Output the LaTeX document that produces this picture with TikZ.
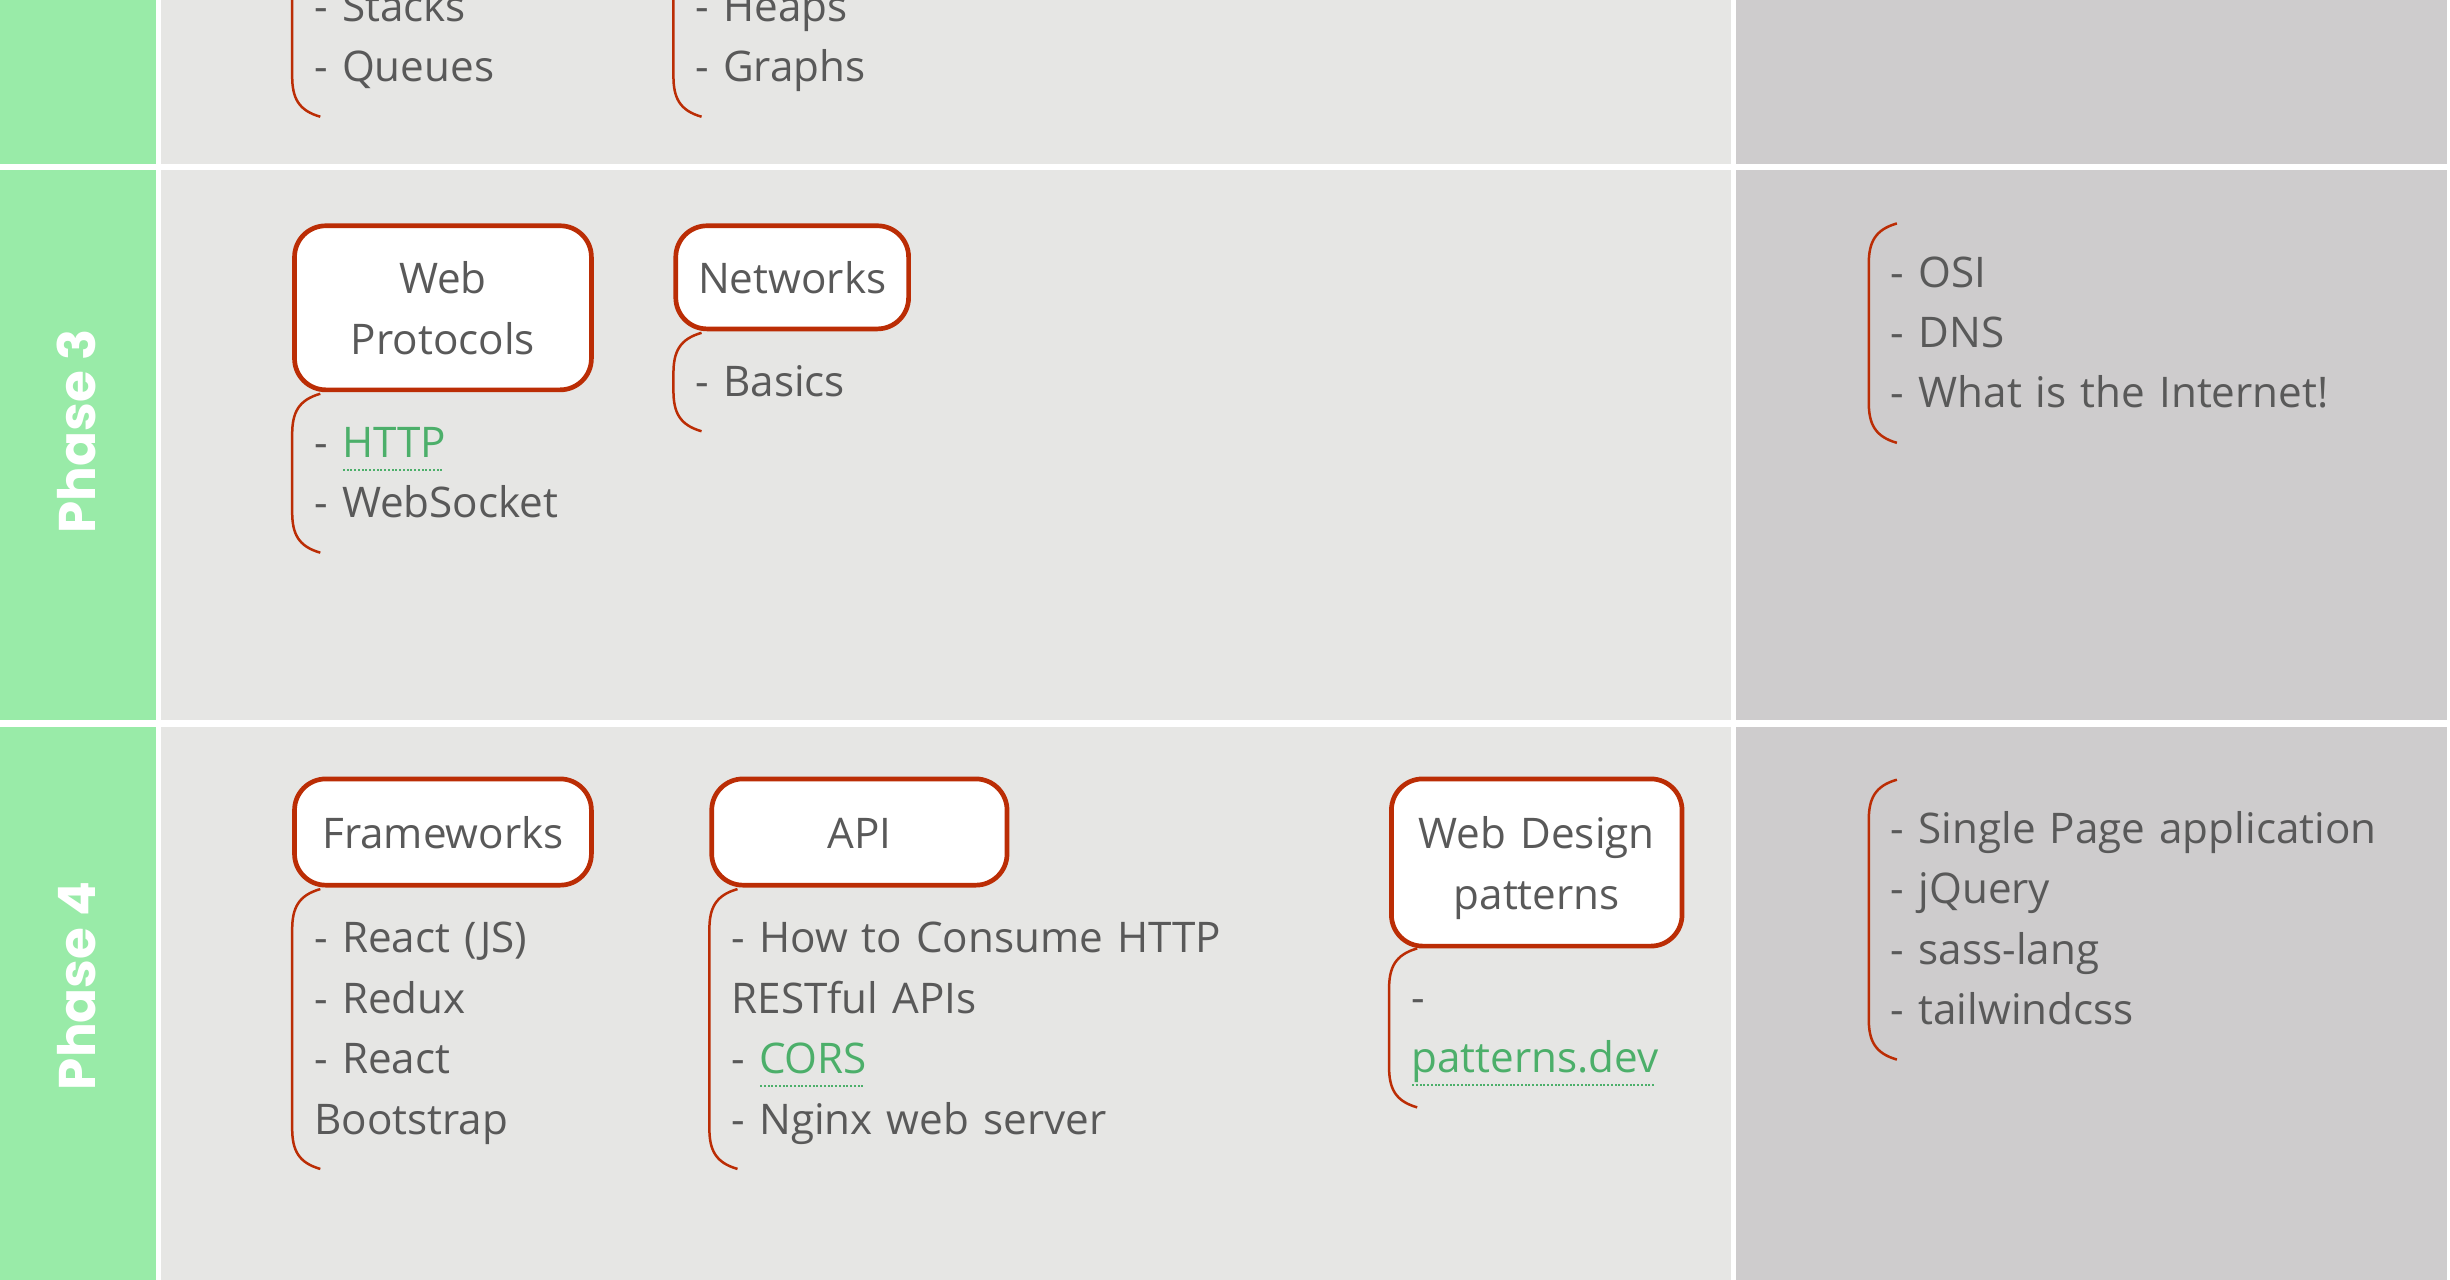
\documentclass[tikz,border=0pt]{standalone}
\usepackage{fontspec}
\setmainfont{Open Sans}
\newfontfamily\phasefont{Poppins}
\usetikzlibrary{calc}
\definecolor{phasegreen}{RGB}{153,235,168}
\definecolor{celllight}{RGB}{230,230,228}
\definecolor{celldark}{RGB}{206,204,205}
\definecolor{topicred}{RGB}{187,45,5}
\definecolor{textgray}{RGB}{89,89,89}
\definecolor{linkgreen}{RGB}{76,175,106}

% green link text with a dotted underline
\newcommand{\weblink}[1]{\textcolor{linkgreen}{\setbox0=\hbox{#1}\rlap{\raisebox{-8.5pt}{\hbox to \wd0{\leaders\hbox to 2.4pt{\hss\rule{1.2pt}{1.2pt}\hss}\hfill}}}\box0}}

\begin{document}
\begin{tikzpicture}[x=1pt,y=-1pt,
  topicbox/.style={draw=topicred, line width=3pt, rounded corners=20pt, fill=white,
    text=textgray, align=center, inner sep=0pt, anchor=north west, minimum width=#1, text width=#1,
    font=\fontsize{27}{38.7}\selectfont, execute at begin node=\rule{0pt}{32.5pt}, execute at end node=\strut},
  topiclist/.style={anchor=north west, align=left, text width=380pt, text=textgray, inner xsep=14pt, inner ysep=10.5pt,
    font=\fontsize{27}{38.7}\selectfont, execute at begin node=\rule{0pt}{30pt}, execute at end node=\strut},
  bracketline/.style={draw=topicred, line width=1.6pt},
  phaselabel/.style={rotate=90, text=white, font=\phasefont\bfseries\fontsize{33}{40}\selectfont}]
\useasboundingbox (0,0) rectangle (1568,819);
\clip (0,0) rectangle (1568,819);
\fill[white] (0,0) rectangle (1568,819);

% Rows of the table
\foreach \rtop/\rbot in {0/105, 109/461, 465/819} {
  \fill[phasegreen] (0,\rtop) rectangle (100,\rbot);
  \fill[celllight] (103,\rtop) rectangle (1108,\rbot);
  \fill[celldark] (1111,\rtop) rectangle (1566,\rbot);
}

% Phase 2 (cut off at the top)
\node[topiclist] (stacklist) at (187,-27) {- Stacks\\- Queues};
\node[topiclist] (heaplist) at (431,-27) {- Heaps\\- Graphs};

% Phase 3
\node[phaselabel] (phase3) at (49,276) {Phase 3};
\node[topicbox=190pt, minimum height=105pt] (webproto) at (187,143) {Web\\Protocols};
\node[topiclist] (protolist) at (187,252) {- \weblink{HTTP}\\- WebSocket};
\node[topicbox=149pt, minimum height=66pt] (networks) at (431,143) {Networks};
\node[topiclist] (netlist) at (431,213) {- Basics};
\node[topiclist] (osilist) at (1196,143) {- OSI\\- DNS\\- What is the Internet!};

% Phase 4
\node[phaselabel] (phase4) at (49,631) {Phase 4};
\node[topicbox=190pt, minimum height=68pt] (frameworks) at (187,497) {Frameworks};
\node[topiclist] (frameworklist) at (187,569) {- React (JS)\\- Redux\\- React\\Bootstrap};
\node[topicbox=189pt, minimum height=68pt] (api) at (454,497) {API};
\node[topiclist] (apilist) at (454,569) {- How to Consume HTTP\\RESTful APIs\\- \weblink{CORS}\\- Nginx web server};
\node[topicbox=186pt, minimum height=107pt] (webdesign) at (889,497) {Web Design\\patterns};
\node[topiclist] (patternlist) at (889,607) {-\\\weblink{patterns.dev}};
\node[topiclist] (spalist) at (1196,499) {- Single Page application\\- jQuery\\- sass-lang\\- tailwindcss};

% Brackets in front of the lists
\foreach \l in {stacklist,heaplist,protolist,netlist,osilist,frameworklist,apilist,patternlist,spalist}
  \draw[bracketline] ($(\l.north west)+(18,0)$) .. controls ($(\l.north west)+(4,4)$) and ($(\l.north west)+(0,12)$) .. ($(\l.north west)+(0,26)$)
    -- ($(\l.south west)+(0,-26)$) .. controls ($(\l.south west)+(0,-12)$) and ($(\l.south west)+(4,-4)$) .. ($(\l.south west)+(18,0)$);
\end{tikzpicture}
\end{document}
